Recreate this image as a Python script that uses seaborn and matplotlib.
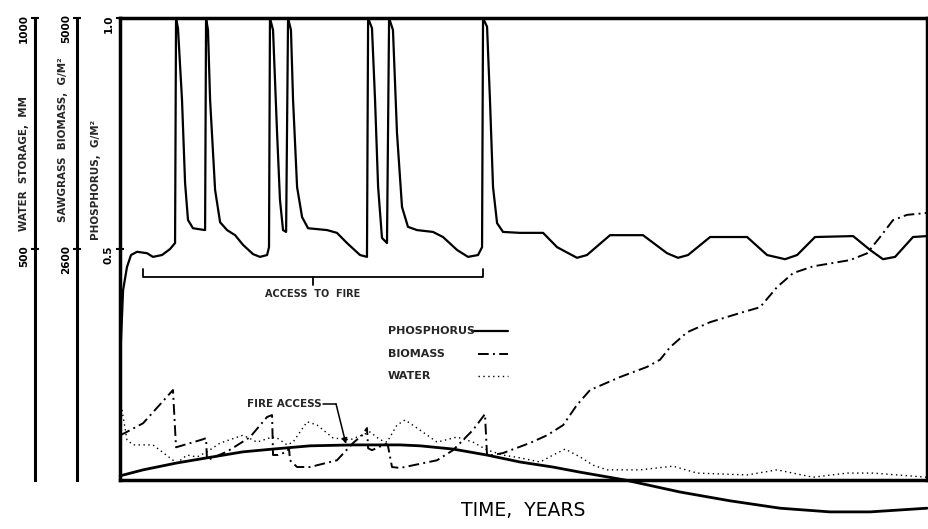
### Import libraries
import matplotlib
matplotlib.use('Agg')
import matplotlib.pyplot as plt
import seaborn as sns

sns.set_style('white')
plt.rcParams['font.family'] = ['DejaVu Sans']

### data (time in years)
phos_years = [0.0, 0.06, 0.19, 0.43, 0.68, 1.05, 1.67, 2.04, 2.60, 3.10,
              3.41, 3.47, 3.59, 3.84, 4.03, 4.21, 4.52, 5.27, 5.33, 5.45,
              5.58, 5.89, 6.20, 6.63, 7.13, 7.62, 8.24, 8.67, 9.11, 9.23,
              9.29, 9.48, 9.73, 9.91, 10.10, 10.29, 10.41, 10.59, 10.72, 10.97,
              11.28, 11.65, 12.83, 13.44, 14.06, 14.87, 15.30, 15.37, 15.61, 15.80,
              15.99, 16.23, 16.54, 16.67, 16.91, 17.16, 17.47, 17.84, 18.40, 19.39,
              20.01, 20.88, 21.56, 22.18, 22.43, 22.49, 22.74, 22.92, 23.11, 23.36,
              23.73, 24.78, 26.21, 27.08, 28.31, 28.93, 30.36, 32.40, 33.89, 34.57,
              35.19, 36.56, 38.85, 40.09, 41.20, 41.95, 43.06, 45.42, 46.47, 47.27,
              48.02, 49.13, 50.0]
phos_gm2 = [0.25, 0.303, 0.411, 0.461, 0.487, 0.494, 0.491, 0.483, 0.487, 0.500,
            0.513, 1.0, 0.978, 0.823, 0.643, 0.563, 0.545, 0.541, 1.0, 0.974,
            0.823, 0.628, 0.558, 0.541, 0.530, 0.509, 0.489, 0.483, 0.487, 0.504,
            1.0, 0.974, 0.751, 0.606, 0.541, 0.537, 1.0, 0.974, 0.823, 0.634,
            0.569, 0.545, 0.541, 0.535, 0.513, 0.487, 0.483, 1.0, 0.978, 0.823,
            0.634, 0.524, 0.513, 1.0, 0.974, 0.751, 0.591, 0.548, 0.541, 0.537,
            0.526, 0.498, 0.483, 0.487, 0.504, 1.0, 0.981, 0.823, 0.634, 0.556,
            0.537, 0.535, 0.535, 0.504, 0.481, 0.487, 0.530, 0.530, 0.491, 0.481,
            0.487, 0.526, 0.526, 0.487, 0.478, 0.487, 0.526, 0.528, 0.498, 0.478,
            0.483, 0.526, 0.528]

biomass_years = [0.0, 0.31, 1.43, 3.28, 3.47, 5.08, 5.33, 5.39, 6.63, 8.05,
                 9.11, 9.42, 9.48, 9.79, 10.35, 10.47, 10.53, 10.97, 11.77, 13.44,
                 14.44, 15.00, 15.30, 15.37, 15.61, 16.48, 16.60, 16.85, 17.35, 19.64,
                 20.63, 21.87, 22.61, 22.74, 23.73, 25.40, 26.46, 27.45, 28.31, 29.12,
                 30.98, 32.65, 33.46, 34.08, 35.13, 36.56, 38.41, 39.65, 40.71, 41.70,
                 42.94, 45.23, 46.28, 47.09, 47.89, 48.76, 50.0]
biomass_gm2 = [665, 690, 790, 1135, 540, 620, 635, 405, 495, 645,
               855, 875, 460, 460, 495, 530, 405, 335, 335, 405,
               585, 665, 740, 530, 510, 575, 555, 335, 325, 405,
               510, 720, 885, 450, 480, 585, 665, 770, 980, 1135,
               1270, 1375, 1450, 1580, 1735, 1840, 1935, 1995, 2205, 2350,
               2420, 2485, 2555, 2725, 2900, 2955, 2975]

water_years = [0.06, 0.12, 0.43, 0.81, 2.04, 3.28, 3.53, 4.15, 4.77, 5.39,
               6.20, 7.62, 8.49, 9.42, 9.73, 10.35, 10.72, 11.59, 12.21, 13.20,
               14.25, 15.49, 16.11, 16.54, 17.16, 17.66, 18.59, 19.64, 20.88, 21.87,
               22.74, 23.73, 24.78, 26.02, 26.83, 27.57, 28.50, 29.31, 30.17, 32.22,
               34.26, 35.75, 38.85, 40.71, 42.94, 45.04, 46.65, 48.14, 50.0]
water_mm = [162, 152, 87, 76, 76, 43, 37, 54, 50, 61,
            80, 97, 82, 93, 91, 76, 82, 126, 119, 91,
            87, 104, 87, 82, 119, 130, 108, 82, 93, 82,
            65, 54, 48, 39, 54, 67, 50, 32, 22, 22,
            30, 15, 11, 22, 6, 15, 15, 11, 6]

access_years = [0.0, 1.43, 3.53, 5.39, 7.62, 9.48, 11.77, 14.44, 17.35, 18.59,
                20.63, 22.74, 24.78, 26.83, 28.50, 31.29, 34.70, 37.79, 40.89, 43.99,
                46.47, 50.0]
access_val = [0.009, 0.022, 0.037, 0.048, 0.061, 0.067, 0.074, 0.076, 0.076, 0.074,
              0.067, 0.054, 0.039, 0.028, 0.017, 0.0, -0.026, -0.045, -0.061, -0.069,
              -0.069, -0.061]

fire_period = [1.43, 22.49]

dashdot = (0, (5.5, 2.2, 1, 2.2))
dotted = (0, (1, 2.5))

fig = plt.figure(figsize=(9.29, 5.29), dpi=100)
ax = fig.add_axes([0.1292, 0.0926, 0.8687, 0.8733])
ax_b = ax.twinx()
ax_w = ax.twinx()

sns.lineplot(x=phos_years, y=phos_gm2, ax=ax, color='k', lw=1.6,
             estimator=None, sort=False)
sns.lineplot(x=access_years, y=access_val, ax=ax, color='k', lw=2.0,
             estimator=None, sort=False, clip_on=False)
sns.lineplot(x=biomass_years, y=biomass_gm2, ax=ax_b, color='k', lw=1.4,
             linestyle=dashdot, estimator=None, sort=False)
sns.lineplot(x=water_years, y=water_mm, ax=ax_w, color='k', lw=1.0,
             linestyle=dotted, estimator=None, sort=False)

ax.set_xlim(0, 50)
ax.set_ylim(0, 1)
ax_b.set_ylim(200, 5000)
ax_w.set_ylim(0, 1000)
ax.set_xticks([])
ax.set_yticks([0.5, 1.0], ['0.5', '1.0'])
ax_b.set_yticks([2600, 5000], ['2600', '5000'])
ax_w.set_yticks([500, 1000], ['500', '1000'])

for s in ax.spines.values():
    s.set_linewidth(2.5)
    s.set_color('k')

for tw, off in ((ax_b, 31), (ax_w, 61)):
    for s in ('top', 'right', 'bottom'):
        tw.spines[s].set_visible(False)
    tw.spines['left'].set_visible(True)
    tw.spines['left'].set_position(('outward', off))
    tw.spines['left'].set_linewidth(2.2)
    tw.spines['left'].set_color('k')
    tw.yaxis.tick_left()

for a in (ax, ax_b, ax_w):
    a.tick_params(axis='y', direction='inout', length=6, width=1.5, pad=1.5,
                  labelsize=7.5, labelrotation=90, left=True, colors='k')
    for lbl in a.get_yticklabels():
        lbl.set_fontweight('bold')
    a.set_ylabel('')

# axis titles
fig.text(0.026, 0.69, 'WATER  STORAGE,  MM', rotation=90, ha='center',
         va='center', fontsize=7.5, fontweight='bold')
fig.text(0.068, 0.735, 'SAWGRASS  BIOMASS,  G/M²', rotation=90, ha='center',
         va='center', fontsize=7.5, fontweight='bold')
fig.text(0.1035, 0.66, 'PHOSPHORUS,  G/M²', rotation=90, ha='center',
         va='center', fontsize=7.5, fontweight='bold')
ax.set_xlabel('TIME,  YEARS', fontsize=13.5, labelpad=15, color='k')

# access to fire bracket
mid = (fire_period[0] + fire_period[1]) / 2
ax.plot([fire_period[0], fire_period[0], fire_period[1], fire_period[1]],
        [0.457, 0.439, 0.439, 0.457], color='k', lw=1.3)
ax.plot([mid, mid], [0.439, 0.422], color='k', lw=1.3)
ax.text(mid, 0.403, 'ACCESS  TO  FIRE', ha='center', va='center',
        fontsize=7, fontweight='bold')

# fire access pointer
ax.text(12.5, 0.164, 'FIRE ACCESS', ha='right', va='center',
        fontsize=7.5, fontweight='bold')
ax.plot([12.55, 13.38], [0.165, 0.165], color='k', lw=1.1)
ax.annotate('', xy=(14.0, 0.078), xytext=(13.38, 0.165),
            arrowprops=dict(arrowstyle='-|>', color='k', lw=1.1,
                            shrinkA=0, shrinkB=0, mutation_scale=8))

# legend drawn as labelled line samples
legend_rows = [('PHOSPHORUS', '-', 1.6, 0.436, 0.322),
               ('BIOMASS', dashdot, 1.4, 0.443, 0.273),
               ('WATER', dotted, 1.0, 0.443, 0.225)]
for label, ls, lw, x0, y in legend_rows:
    ax.text(0.332, y, label, transform=ax.transAxes, ha='left', va='center',
            fontsize=8, fontweight='bold')
    ax.plot([x0, 0.481], [y, y], transform=ax.transAxes, color='k',
            lw=lw, linestyle=ls)

plt.savefig('out.png', dpi=100)
plt.close()
